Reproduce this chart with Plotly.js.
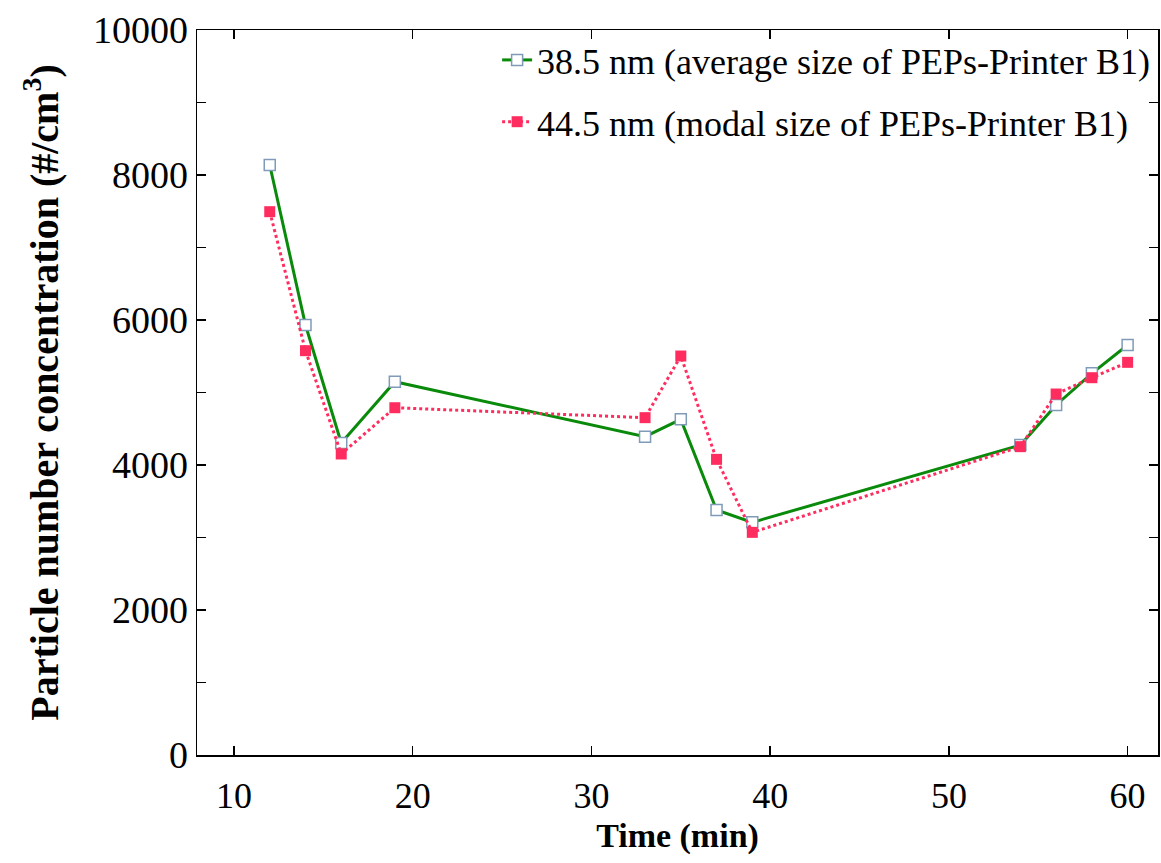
<!DOCTYPE html>
<html>
<head>
<meta charset="utf-8">
<script src="https://cdn.plot.ly/plotly-3.0.1.min.js"></script>
<style>html,body{margin:0;padding:0;background:#fff;}#chart{width:1161px;height:863px;}</style>
</head>
<body>
<div id="chart"></div>
<script>
const timeMin = [12, 14, 16, 19, 33, 35, 37, 39, 54, 56, 58, 60];
const avgSize = [8138, 5931, 4303, 5149, 4391, 4630, 3379, 3209, 4275, 4828, 5265, 5655];
const modalSize = [7494, 5577, 4152, 4790, 4653, 5503, 4078, 3071, 4253, 4979, 5204, 5416];
const seriesNames = ["38.5 nm (average size of PEPs-Printer B1)", "44.5 nm (modal size of PEPs-Printer B1)"];
const xTicks = [10, 20, 30, 40, 50, 60];
const yTicks = [0, 2000, 4000, 6000, 8000, 10000];

const font = "Liberation Serif";
const traces = [
  {
    x: timeMin, y: avgSize, name: seriesNames[0], type: "scatter", mode: "lines+markers",
    legendgroup: "a",
    line: {color: "#0a8a0a", width: 3},
    marker: {symbol: "square", size: 11, color: "#ffffff", line: {color: "#7f9bb8", width: 1.5}}
  },
  {
    x: timeMin, y: modalSize, name: seriesNames[1], type: "scatter", mode: "lines+markers",
    legendgroup: "b",
    line: {color: "#ff2d5f", width: 3, dash: "dot"},
    marker: {symbol: "square", size: 11, color: "#ff2d5f"}
  }
];
const axisCommon = {
  showline: true, linecolor: "#000", linewidth: 1.5, mirror: "allticks",
  ticks: "inside", ticklen: 9, tickwidth: 1.5, tickcolor: "#000",
  showgrid: false, zeroline: false
};
const layout = {
  width: 1161, height: 863,
  margin: {l: 197, r: 3, t: 30, b: 108},
  paper_bgcolor: "#fff", plot_bgcolor: "#fff",
  font: {family: font, color: "#000"},
  showlegend: true,
  legend: {
    x: 0.997, y: 1.0, xanchor: "right", yanchor: "top",
    font: {family: font, size: 36, color: "#000"},
    bgcolor: "rgba(0,0,0,0)", tracegroupgap: 12, traceorder: "grouped"
  },
  xaxis: Object.assign({}, axisCommon, {
    range: [7.93, 61.7], tickvals: xTicks, ticktext: xTicks.map(String),
    tickfont: {family: font, size: 36, color: "#000"},
    ticklabelstandoff: 8,
    title: {text: "<b>Time (min)</b>", font: {family: font, size: 34, color: "#000"}, standoff: 8}
  }),
  yaxis: Object.assign({}, axisCommon, {
    range: [0, 10000], tickvals: yTicks, ticktext: yTicks.map(String),
    tickfont: {family: font, size: 38, color: "#000"},
    minor: {dtick: 1000, ticks: "inside", ticklen: 9, tickwidth: 1.5, tickcolor: "#000"},
    title: {text: "<b>Particle number concentration (#/cm<sup>3</sup>)</b>", font: {family: font, size: 40, color: "#000"}, standoff: 22}
  })
};
Plotly.newPlot("chart", traces, layout, {displayModeBar: false, staticPlot: true});
</script>
</body>
</html>
